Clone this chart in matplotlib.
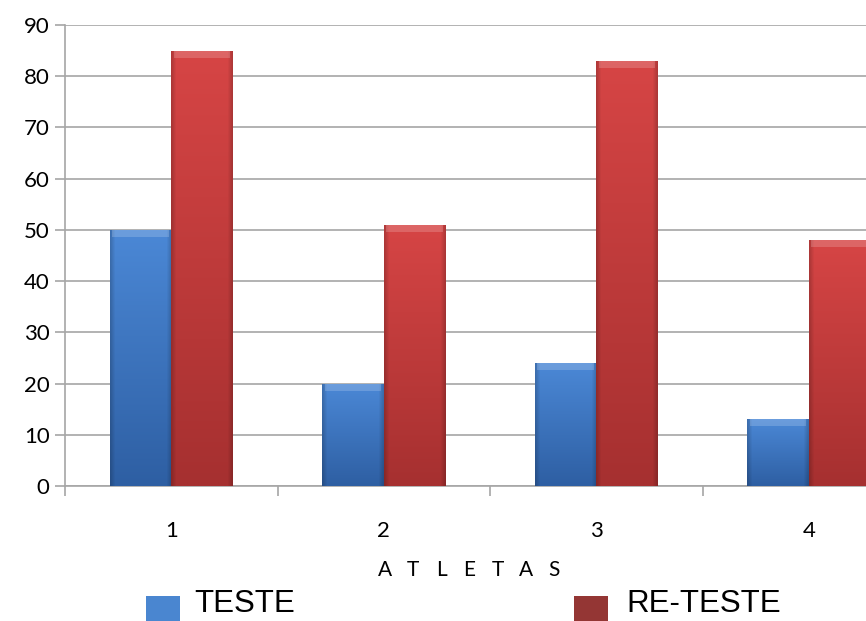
import numpy as np
import matplotlib
matplotlib.use('Agg')
import matplotlib.pyplot as plt
from matplotlib.patches import Rectangle
from matplotlib.colors import to_rgb

atletas = ['1', '2', '3', '4']
teste = [50, 20, 24, 13]
reteste = [85, 51, 83, 48]
y_ticks = list(range(0, 100, 10))

BLUE_TOP, BLUE_BOT = '#4b88d6', '#2e5fa3'
RED_TOP, RED_BOT = '#d64545', '#a63030'
GRID = '#a6a6a6'

plt.rcParams['font.family'] = ['Lato', 'DejaVu Sans']

fig = plt.figure(figsize=(8.66, 6.21), dpi=100)
ax = fig.add_axes([65/866, 135/621, 850/866, 461/621])


def shaded_bar(ax, xc, width, height, top, bot):
    # bar drawn by the library, then filled with a bevel-like gradient clipped to it
    rect = ax.bar(xc, height, width, color=bot, linewidth=0, zorder=3)[0]
    ny, nx = 60, 40
    t = np.linspace(0, 1, ny)[:, None]           # 0 bottom -> 1 top
    s = np.linspace(-1, 1, nx)[None, :]
    c_top, c_bot = np.array(to_rgb(top)), np.array(to_rgb(bot))
    base = c_bot + (c_top - c_bot) * t[..., None]
    edge = 1 - 0.18 * np.clip((np.abs(s) - 0.85) / 0.15, 0, 1)
    img = base * edge[..., None]
    x0 = xc - width / 2
    im = ax.imshow(img, extent=(x0, x0 + width, 0, height), origin='lower',
                   aspect='auto', zorder=4, interpolation='bilinear')
    im.set_clip_path(rect)
    # light bevel along the top edge
    bevel = min(1.4, height * 0.1)
    ax.add_patch(Rectangle((x0 + 0.012, height - bevel), width - 0.024, bevel,
                           facecolor='white', alpha=0.18, linewidth=0, zorder=5))


x = np.arange(1, len(atletas) + 1)
w = 0.29
for xi, a, b in zip(x, teste, reteste):
    shaded_bar(ax, xi - w / 2, w, a, BLUE_TOP, BLUE_BOT)
    shaded_bar(ax, xi + w / 2, w, b, RED_TOP, RED_BOT)

ax.set_xlim(0.5, 4.5)
ax.set_ylim(0, 90)
ax.set_yticks(y_ticks)
ax.yaxis.grid(True, color=GRID, linewidth=1.2, zorder=0)
ax.set_axisbelow(True)
ax.set_xticks(x)
ax.set_xticklabels(atletas)
ax.set_xticks(np.arange(0.5, 5, 1), minor=True)
ax.tick_params(axis='x', which='major', length=0, pad=25, labelsize=16)
ax.tick_params(axis='x', which='minor', length=7, color=GRID, width=1.2)
ax.tick_params(axis='y', length=7, color=GRID, width=1.2, labelsize=16, pad=4)
for sp in ['top', 'right']:
    ax.spines[sp].set_visible(False)
for sp in ['left', 'bottom']:
    ax.spines[sp].set_color(GRID)
    ax.spines[sp].set_linewidth(1.2)

# spaced-out axis title
for i, ch in enumerate('ATLETAS'):
    fig.text((385 + 28.2 * i) / 866, 1 - 570/621, ch, ha='center', va='center',
             fontsize=15, color='black')

# legend
fig.patches.append(Rectangle((146/866, 0), 34/866, 25/621, transform=fig.transFigure,
                             facecolor='#4a86d0', edgecolor='none'))
fig.patches.append(Rectangle((574/866, 0), 34/866, 25/621, transform=fig.transFigure,
                             facecolor='#943634', edgecolor='none'))
fig.text(194/866, 1 - 604/621, 'TESTE', ha='left', va='center', fontsize=22.5,
         family='Liberation Sans')
fig.text(626/866, 1 - 604/621, 'RE-TESTE', ha='left', va='center', fontsize=22.5,
         family='Liberation Sans')

fig.savefig('out.png', dpi=100)
